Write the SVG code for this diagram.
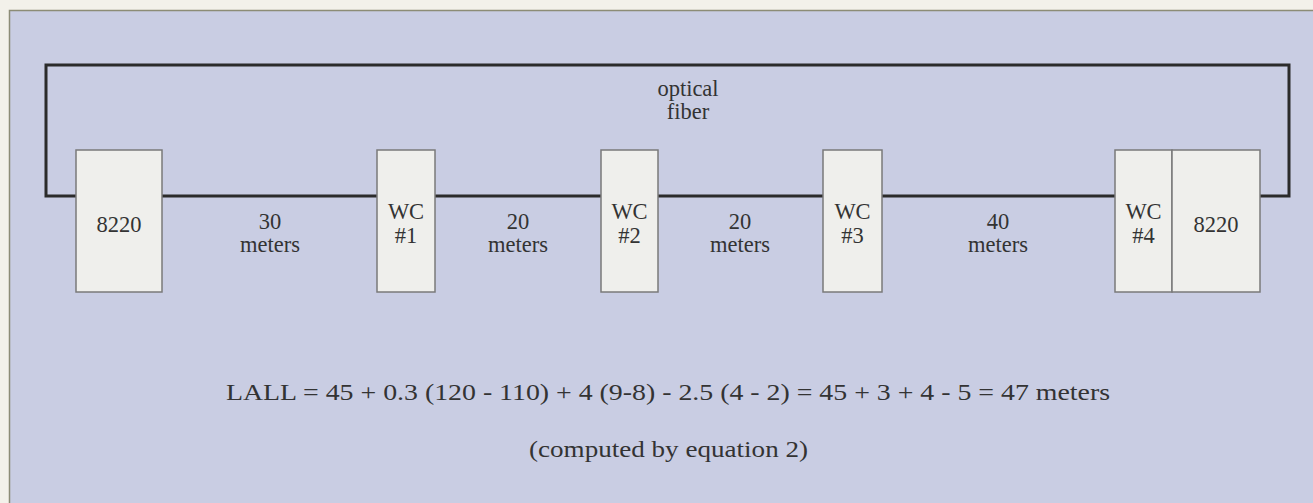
<svg xmlns="http://www.w3.org/2000/svg" width="1313" height="503" viewBox="0 0 1313 503">
<style>
text{font-family:"Liberation Serif","Times New Roman",serif;fill:#333;}
.lbl{font-size:22.5px;text-anchor:middle;}
.eq{font-size:24px;}
.box{fill:#efefec;stroke:#7a7a7a;stroke-width:1.5;}
.wire{fill:none;stroke:#2b2b2b;stroke-width:3;stroke-linejoin:miter;}
</style>
<rect x="0" y="0" width="1313" height="503" fill="#f3f1ea"/>
<rect x="9.5" y="10.5" width="1310" height="500" fill="#c9cde3" stroke="#8c8c76" stroke-width="1.5"/>
<g id="connectors">
<path class="wire" d="M 1260 196 H 1289 V 65 H 46 V 196 H 1115"/>
<text class="lbl" x="688" y="96">optical</text>
<text class="lbl" x="688" y="119">fiber</text>
<text class="lbl" x="270" y="229">30</text>
<text class="lbl" x="270" y="252">meters</text>
<text class="lbl" x="518" y="229">20</text>
<text class="lbl" x="518" y="252">meters</text>
<text class="lbl" x="740" y="229">20</text>
<text class="lbl" x="740" y="252">meters</text>
<text class="lbl" x="998" y="229">40</text>
<text class="lbl" x="998" y="252">meters</text>
</g>
<g id="n8220a"><rect class="box" x="76" y="150" width="86" height="142"/><text class="lbl" x="119" y="232">8220</text></g>
<g id="wc1"><rect class="box" x="377" y="150" width="58" height="142"/><text class="lbl" x="406" y="219">WC</text><text class="lbl" x="406" y="243">#1</text></g>
<g id="wc2"><rect class="box" x="601" y="150" width="57" height="142"/><text class="lbl" x="629.5" y="219">WC</text><text class="lbl" x="629.5" y="243">#2</text></g>
<g id="wc3"><rect class="box" x="823" y="150" width="59" height="142"/><text class="lbl" x="852.5" y="219">WC</text><text class="lbl" x="852.5" y="243">#3</text></g>
<g id="wc4"><rect class="box" x="1115" y="150" width="57" height="142"/><text class="lbl" x="1143.5" y="219">WC</text><text class="lbl" x="1143.5" y="243">#4</text></g>
<g id="n8220b"><rect class="box" x="1172" y="150" width="88" height="142"/><text class="lbl" x="1216" y="232">8220</text></g>
<g id="equation">
<text class="eq" x="226" y="400" textLength="884" lengthAdjust="spacingAndGlyphs">LALL = 45 + 0.3 (120 - 110) + 4 (9-8) - 2.5 (4 - 2) = 45 + 3 + 4 - 5 = 47 meters</text>
<text class="eq" x="529" y="457" textLength="279" lengthAdjust="spacingAndGlyphs">(computed by equation 2)</text>
</g>
</svg>
